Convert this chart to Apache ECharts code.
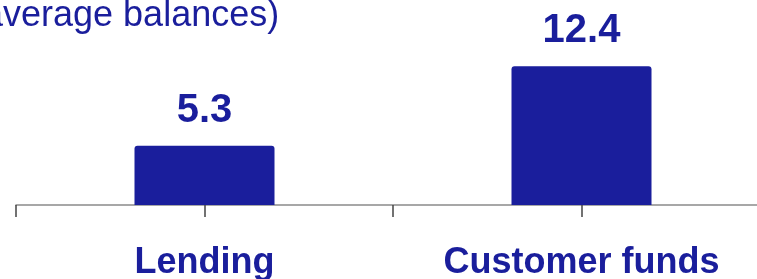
<!DOCTYPE html>
<html>
<head>
<meta charset="utf-8">
<script src="https://cdn.jsdelivr.net/npm/echarts@6/dist/echarts.min.js"></script>
<style>
  html, body { margin: 0; padding: 0; background: #fff; }
  #chart { width: 757px; height: 279px; }
</style>
</head>
<body>
<div id="chart"></div>
<script>
const categories = ["Lending", "Customer funds"];
const values = [5.3, 12.4];
const subtitle = "(average balances)";

const blue = "#1a1e9c";
const font = "Liberation Sans, Arial, sans-serif";

const chart = echarts.init(document.getElementById("chart"), null, { renderer: "canvas" });

const gridBox = { left: 16, right: -13, top: 26, bottom: 74, outerBoundsMode: "none", containLabel: false };

chart.setOption({
  animation: false,
  graphic: [{
    type: "text",
    left: -29,
    top: -2,
    style: { text: subtitle, font: "36px " + font, fill: blue }
  }],
  grid: [
    Object.assign({}, gridBox),
    Object.assign({}, gridBox)
  ],
  xAxis: [{
    type: "category",
    gridIndex: 0,
    data: categories,
    axisLine: { lineStyle: { color: "#8a8a8a", width: 1.5 } },
    axisTick: { show: true, interval: 0, length: 12, lineStyle: { color: "#444", width: 1.5 } },
    axisLabel: {
      margin: 40,
      color: blue,
      fontSize: 36,
      fontWeight: "bold",
      fontFamily: font
    }
  }, {
    type: "category",
    gridIndex: 1,
    data: categories,
    axisLine: { show: false },
    axisTick: { show: true, interval: 0, alignWithLabel: true, length: 12, lineStyle: { color: "#444", width: 1.5 } },
    axisLabel: { show: false }
  }],
  yAxis: [
    { type: "value", gridIndex: 0, min: 0, max: 16, show: false },
    { type: "value", gridIndex: 1, min: 0, max: 16, show: false }
  ],
  series: [{
    type: "bar",
    xAxisIndex: 0,
    yAxisIndex: 0,
    data: values,
    barWidth: 140,
    itemStyle: { color: blue, borderRadius: [3, 3, 0, 0] },
    label: {
      show: true,
      position: "top",
      distance: 15,
      color: blue,
      fontSize: 40,
      fontWeight: "bold",
      fontFamily: font
    }
  }]
});
</script>
</body>
</html>
